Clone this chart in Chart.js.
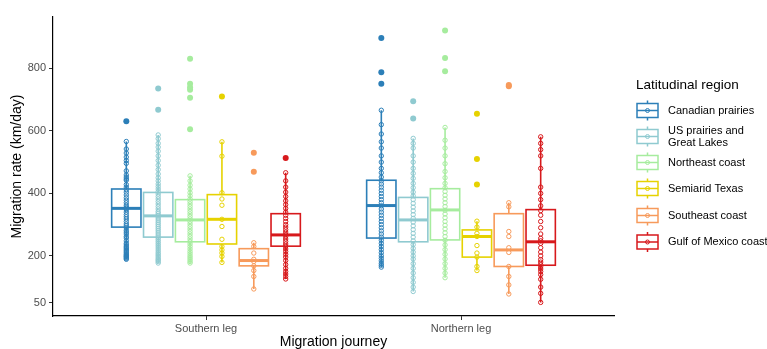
<!DOCTYPE html>
<html>
<head>
<meta charset="utf-8">
<script src="https://cdn.jsdelivr.net/npm/chart.js@4.4.0/dist/chart.umd.min.js"></script>
<style>
  html, body { margin: 0; padding: 0; background: #fff; }
  #wrap { width: 767px; height: 349px; position: relative; }
</style>
</head>
<body>
<div id="wrap"><canvas id="graficoMigracao"></canvas></div>
<script>
const journeys = ['Southern leg', 'Northern leg'];
const regions = ['Canadian prairies', 'US prairies and Great Lakes', 'Northeast coast', 'Semiarid Texas', 'Southeast coast', 'Gulf of Mexico coast'];
const legendLines = [['Canadian prairies'], ['US prairies and', 'Great Lakes'], ['Northeast coast'], ['Semiarid Texas'], ['Southeast coast'], ['Gulf of Mexico coast']];
const colors = ['#2C7FB8', '#8FCAD0', '#A6EC9E', '#E6D200', '#F79A5B', '#D7191C'];
const yTicks = [50, 200, 400, 600, 800];

// [whisker low, Q1, median, Q3, whisker high]
const southernStats = [
  [189, 292, 352, 414, 566],
  [177, 260, 328, 403, 587],
  [177, 245, 315, 380, 456],
  [179, 238, 317, 396, 565],
  [94, 168, 185, 223, 242],
  [126, 231, 267, 335, 466]
];
const northernStats = [
  [164, 257, 361, 442, 666],
  [86, 245, 315, 387, 576],
  [130, 251, 347, 415, 611],
  [153, 196, 262, 283, 311],
  [78, 166, 219, 335, 370],
  [51, 170, 245, 348, 581]
];

const southernPoints = [
  [189, 192, 195, 198, 200, 203, 206, 210, 214, 218, 222, 226, 230, 235, 240, 248, 257, 262, 270, 276, 282, 290, 296, 302, 310, 318, 325, 332, 340, 348, 352, 356, 362, 370, 378, 386, 395, 404, 412, 420, 428, 442, 446, 452, 459, 472, 496, 505, 516, 529, 542, 566],
  [177, 182, 186, 190, 195, 200, 205, 210, 216, 222, 228, 234, 240, 246, 252, 258, 264, 270, 276, 282, 288, 294, 300, 306, 312, 318, 324, 330, 336, 342, 350, 358, 366, 374, 382, 390, 398, 406, 414, 422, 430, 440, 450, 462, 476, 490, 505, 520, 535, 548, 560, 575, 587],
  [177, 182, 188, 194, 200, 207, 214, 222, 230, 238, 246, 254, 262, 270, 278, 286, 294, 302, 310, 318, 326, 334, 342, 350, 358, 366, 374, 382, 392, 402, 414, 426, 440, 456],
  [179, 198, 209, 219, 230, 253, 294, 317, 362, 382, 402, 519, 565],
  [94, 134, 153, 168, 182, 189, 209, 230, 242],
  [126, 134, 142, 150, 160, 172, 185, 196, 205, 214, 222, 230, 238, 246, 254, 262, 268, 276, 284, 292, 300, 310, 320, 330, 340, 352, 364, 376, 390, 404, 420, 440, 466]
];
const southernOutliers = [
  [631],
  [668, 736],
  [605, 706, 732, 740, 751, 831],
  [710],
  [469, 530],
  [513]
];

const northernPoints = [
  [164, 170, 176, 184, 192, 200, 210, 220, 230, 240, 250, 260, 270, 280, 290, 300, 310, 320, 330, 340, 350, 360, 370, 380, 390, 400, 410, 420, 430, 440, 452, 466, 480, 500, 520, 545, 565, 590, 620, 666],
  [86, 100, 115, 130, 145, 160, 175, 190, 200, 212, 224, 236, 248, 260, 272, 284, 296, 308, 320, 332, 344, 356, 368, 380, 392, 404, 418, 432, 448, 464, 480, 500, 520, 545, 560, 576],
  [130, 145, 160, 175, 190, 205, 220, 235, 250, 262, 274, 286, 298, 310, 322, 334, 346, 358, 370, 382, 394, 406, 418, 432, 450, 470, 495, 520, 545, 570, 611],
  [153, 166, 196, 209, 233, 262, 272, 292, 311],
  [78, 107, 134, 166, 211, 226, 262, 278, 357, 370],
  [51, 80, 100, 125, 140, 150, 158, 165, 172, 180, 188, 200, 212, 226, 240, 248, 256, 270, 290, 310, 330, 345, 360, 380, 400, 420, 480, 520, 540, 560, 581]
];
const northernOutliers = [
  [751, 788, 897],
  [640, 695],
  [791, 833, 921],
  [428, 510, 655],
  [743, 747],
  []
];

const dodge = 0.125;
const boxWidth = 0.115;
const fonte = '"Liberation Sans", Arial, sans-serif';

function posicaoX(leg, r) {
  return leg + 1 + (r - 2.5) * dodge;
}

const datasets = [];
regions.forEach((nome, r) => {
  const pontos = [];
  southernPoints[r].forEach(v => pontos.push({ x: posicaoX(0, r), y: v }));
  northernPoints[r].forEach(v => pontos.push({ x: posicaoX(1, r), y: v }));
  datasets.push({
    label: nome,
    data: pontos,
    pointRadius: 2.2,
    pointBorderWidth: 1,
    borderColor: colors[r],
    backgroundColor: 'rgba(0,0,0,0)'
  });
});
regions.forEach((nome, r) => {
  const outs = [];
  southernOutliers[r].forEach(v => outs.push({ x: posicaoX(0, r), y: v }));
  northernOutliers[r].forEach(v => outs.push({ x: posicaoX(1, r), y: v }));
  datasets.push({
    label: nome + ' outliers',
    data: outs,
    pointRadius: 3,
    pointBorderWidth: 0,
    borderColor: colors[r],
    backgroundColor: colors[r]
  });
});

const boxPlugin = {
  id: 'caixas',
  beforeDatasetsDraw(chart) {
    const ctx = chart.ctx;
    const xs = chart.scales.x, ys = chart.scales.y;
    [southernStats, northernStats].forEach((stats, leg) => {
      stats.forEach((s, r) => {
        const cx = xs.getPixelForValue(posicaoX(leg, r));
        const x0 = xs.getPixelForValue(posicaoX(leg, r) - boxWidth / 2);
        const x1 = xs.getPixelForValue(posicaoX(leg, r) + boxWidth / 2);
        const [lo, q1, med, q3, hi] = s.map(v => ys.getPixelForValue(v));
        ctx.save();
        ctx.strokeStyle = colors[r];
        ctx.lineWidth = 1.6;
        ctx.beginPath();
        ctx.moveTo(cx, lo); ctx.lineTo(cx, q1);
        ctx.moveTo(cx, q3); ctx.lineTo(cx, hi);
        ctx.stroke();
        ctx.strokeRect(x0, q3, x1 - x0, q1 - q3);
        ctx.lineWidth = 3;
        ctx.beginPath();
        ctx.moveTo(x0, med); ctx.lineTo(x1, med);
        ctx.stroke();
        ctx.restore();
      });
    });
  },
  afterDraw(chart) {
    const ctx = chart.ctx;
    ctx.save();
    ctx.fillStyle = '#000';
    ctx.textBaseline = 'middle';
    ctx.font = '13.5px ' + fonte;
    ctx.fillText('Latitudinal region', 636, 85);
    const centros = [110.5, 136.5, 162.5, 188.5, 215.5, 242];
    ctx.font = '11px ' + fonte;
    regions.forEach((nome, r) => {
      const cy = centros[r];
      const x0 = 637, x1 = 658, cx = (x0 + x1) / 2;
      ctx.strokeStyle = colors[r];
      ctx.lineWidth = 1.5;
      ctx.beginPath();
      ctx.moveTo(cx, cy - 10); ctx.lineTo(cx, cy - 7);
      ctx.moveTo(cx, cy + 7); ctx.lineTo(cx, cy + 10);
      ctx.stroke();
      ctx.strokeRect(x0, cy - 7, x1 - x0, 14);
      ctx.beginPath();
      ctx.moveTo(x0, cy); ctx.lineTo(x1, cy);
      ctx.stroke();
      ctx.lineWidth = 1;
      ctx.beginPath();
      ctx.arc(cx, cy, 2, 0, Math.PI * 2);
      ctx.stroke();
      const linhas = legendLines[r];
      ctx.fillStyle = '#000';
      if (linhas.length === 1) {
        ctx.fillText(linhas[0], 668, cy);
      } else {
        ctx.fillText(linhas[0], 668, cy - 5.5);
        ctx.fillText(linhas[1], 668, cy + 6.5);
      }
    });
    ctx.restore();
  }
};

new Chart(document.getElementById('graficoMigracao'), {
  type: 'scatter',
  data: { datasets },
  plugins: [boxPlugin],
  options: {
    responsive: true,
    maintainAspectRatio: false,
    animation: false,
    events: [],
    layout: { padding: { left: 0, top: 17, right: 153, bottom: 0 } },
    plugins: { legend: { display: false }, tooltip: { enabled: false } },
    scales: {
      x: {
        type: 'linear',
        min: 0.4, max: 2.6,
        afterBuildTicks: scale => { scale.ticks = [{ value: 1 }, { value: 2 }]; },
        afterFit: scale => { scale.height = 33; },
        grid: { drawOnChartArea: false, drawTicks: true, tickLength: 4, color: '#333' },
        border: { display: true, color: '#000', width: 1.2 },
        ticks: {
          color: '#4D4D4D', font: { family: fonte, size: 11 }, padding: 2,
          callback: v => journeys[v - 1]
        },
        title: { display: true, text: 'Migration journey', color: '#000', font: { family: fonte, size: 14, lineHeight: 1 }, padding: { top: 0, bottom: 0 } }
      },
      y: {
        min: 7.5, max: 964.5,
        afterBuildTicks: scale => { scale.ticks = yTicks.map(v => ({ value: v })); },
        afterFit: scale => { scale.width = 53; },
        grid: { drawOnChartArea: false, drawTicks: true, tickLength: 4, color: '#333' },
        border: { display: true, color: '#000', width: 1.2 },
        ticks: { color: '#4D4D4D', font: { family: fonte, size: 11 }, padding: 3 },
        title: { display: true, text: 'Migration rate (km/day)', color: '#000', font: { family: fonte, size: 14 }, padding: { top: 9, bottom: 0 } }
      }
    }
  }
});
</script>
</body>
</html>
